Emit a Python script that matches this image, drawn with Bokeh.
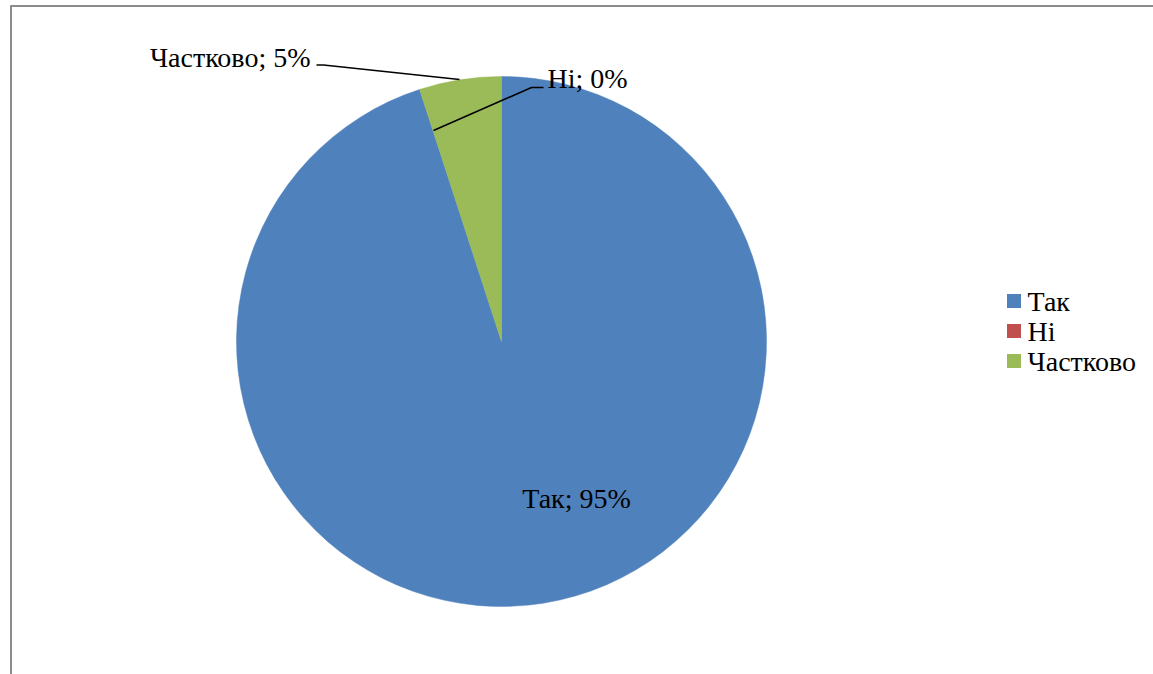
import math
from bokeh.plotting import figure
from bokeh.models import ColumnDataSource, Range1d
from bokeh.core.properties import value
from bokeh.embed import file_html
from bokeh.resources import INLINE

categories = ["Так", "Ні", "Частково"]
percents = [95, 0, 5]
colors = ["#4F81BD", "#C0504D", "#9BBB59"]

FONT = "Liberation Serif"
FS = "28px"

W, H = 1153, 674
# data coords: x = page x, y = 674 - page y
p = figure(width=W, height=H, output_backend="svg", toolbar_location=None,
           x_range=Range1d(0, W), y_range=Range1d(0, H), min_border=0)
p.axis.visible = False
p.grid.visible = False
p.outline_line_color = None
p.background_fill_color = "white"

def Y(py):
    return 674 - py

# chart-area frame (top and left visible)
p.segment(x0=[10.5, 10], y0=[Y(5), Y(5.5)], x1=[10.5, 1160], y1=[Y(700), Y(5.5)],
          line_color="#8C8C8C", line_width=2)

cx, cy, r = 501, Y(341), 265
total = sum(percents)
starts, ends = [], []
cum = 0
for v in percents:
    starts.append(math.pi / 2 - 2 * math.pi * cum / total)
    cum += v
    ends.append(math.pi / 2 - 2 * math.pi * cum / total)

idx = [i for i, v in enumerate(percents) if v > 0]
src = ColumnDataSource(dict(
    start=[starts[i] for i in idx], end=[ends[i] for i in idx],
    color=[colors[i] for i in idx], cat=[categories[i] for i in idx]))
p.wedge(x=cx, y=cy, radius=r, radius_units="screen", start_angle="start",
        end_angle="end", direction="clock", fill_color="color",
        line_color="color", line_width=0.5, source=src)

labels = [f"{c}; {v}%" for c, v in zip(categories, percents)]

# data labels
p.text(x=[576], y=[Y(498)], text=[labels[0]], text_align="center",
       text_baseline="middle", text_font=value(FONT), text_font_size=FS,
       text_color="black")
p.text(x=[547], y=[Y(78)], text=[labels[1]], text_align="left",
       text_baseline="middle", text_font=value(FONT), text_font_size=FS,
       text_color="black")
p.text(x=[310], y=[Y(57)], text=[labels[2]], text_align="right",
       text_baseline="middle", text_font=value(FONT), text_font_size=FS,
       text_color="black")

# leader lines
p.line(x=[316, 323, 459], y=[Y(64.5), Y(64.5), Y(79)], line_color="black", line_width=1.5)
p.line(x=[433, 531, 543], y=[Y(130), Y(87), Y(87)], line_color="black", line_width=1.5)

# legend
lx, ly0, step = 1013.5, 300.5, 30
leg = ColumnDataSource(dict(
    x=[lx] * len(categories),
    y=[Y(ly0 + i * step) for i in range(len(categories))],
    ty=[Y(ly0 + i * step + 0.5) for i in range(len(categories))],
    tx=[1027] * len(categories),
    color=colors, label=categories))
p.rect(x="x", y="y", width=14, height=14, width_units="screen", height_units="screen",
       fill_color="color", line_color=None, source=leg)
p.text(x="tx", y="ty", text="label", text_align="left", text_baseline="middle",
       text_font=value(FONT), text_font_size=FS, text_color="black", source=leg)

open("out.html", "w").write(file_html(p, INLINE))
